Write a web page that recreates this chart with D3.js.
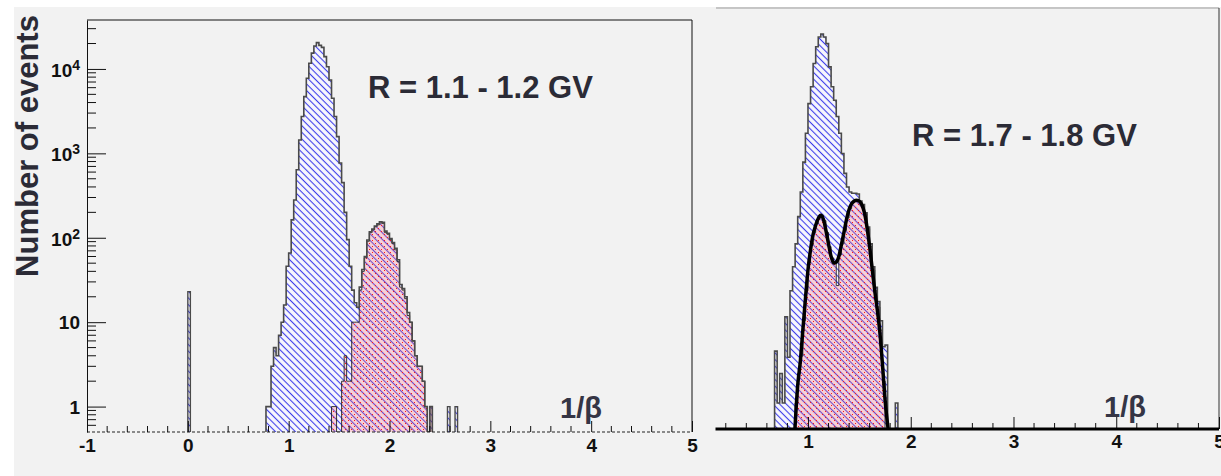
<!DOCTYPE html>
<html>
<head>
<meta charset="utf-8">
<script src="https://cdn.jsdelivr.net/npm/d3@7"></script>
<style>
  body { margin: 0; background: #fff; }
  svg { display: block; }
  text { font-family: "Liberation Sans", Arial, sans-serif; font-weight: bold; }
</style>
</head>
<body>
<div id="chart"></div>
<script>
// bin width of all histograms (1/beta units)
const binWidth = 0.025;

// left panel, R = 1.1 - 1.2 GV
const leftTotalStart = 0.775;
const leftTotal = [1, 1, 3, 5, 4, 7, 10, 16, 46, 66, 163, 280, 640, 1440, 2730, 4700, 7750, 11700,
  15400, 18700, 20500, 19000, 18000, 14000, 10600, 7400, 4500, 2730, 1580, 770, 450, 200, 95, 46,
  24, 17, 15, 26, 42, 60, 94, 118, 127, 138, 146, 155, 152, 120, 113, 98, 88, 75, 55, 28, 25, 20,
  13, 10, 6, 4, 3, 3, 2, 1, 0, 1];
const leftRedStart = 1.425;
const leftRed = [1, 1, 0, 0, 2, 4, 2, 2, 10, 10, 10, 24, 40, 58, 91, 115, 124, 135, 142, 150, 148,
  115, 110, 95, 85, 72, 52, 26, 24, 19, 12, 10, 6, 4, 3, 3, 2, 1, 0, 1];
const leftSpikeStarts = [0, 2.575, 2.65];
const leftSpikeCounts = [23, 1, 1];

// right panel, R = 1.7 - 1.8 GV
const rightTotalStart = 0.675;
const rightTotal = [4, 1, 2.2, 1, 10, 3.4, 20, 38, 70, 145, 280, 620, 1340, 2960, 4650, 8650, 13500,
  17500, 19000, 17500, 14700, 7900, 4650, 3240, 2100, 1340, 780, 460, 320, 280, 270, 270, 265, 220,
  200, 160, 110, 70, 38, 22, 15, 9, 4.5, 4.7, 0, 0, 0, 1];
const rightRedStart = 0.875;
const rightRed = [1, 2.2, 3.5, 9, 20, 42, 68, 95, 120, 140, 150, 130, 95, 65, 48, 44, 23, 52, 70, 100,
  140, 180, 210, 222, 225, 215, 195, 155, 105, 65, 35, 20, 13, 7, 1.8];

// fitted curve (right panel)
const fitX = [0.873, 0.9, 0.925, 0.95, 0.975, 1.0, 1.025, 1.05, 1.075, 1.1, 1.125, 1.15, 1.175, 1.2,
  1.225, 1.25, 1.275, 1.3, 1.325, 1.35, 1.375, 1.4, 1.425, 1.45, 1.475, 1.5, 1.525, 1.55, 1.575,
  1.6, 1.625, 1.65, 1.675, 1.7, 1.725, 1.75, 1.78];
const fitY = [0.5, 1.6, 3, 7, 16, 35, 60, 90, 115, 138, 150, 135, 100, 70, 50, 42, 43, 50, 68, 95,
  135, 175, 205, 220, 225, 218, 198, 160, 108, 65, 36, 20, 12, 6.5, 2.8, 1.1, 0.5];

// ticks
const xTicksLeft = [-1, 0, 1, 2, 3, 4, 5];
const xTicksRight = [1, 2, 3, 4, 5];
const yTickValues = [1, 10, 100, 1000, 10000];
const yTickBase = ["1", "10", "10", "10", "10"];
const yTickExp = ["", "", "2", "3", "4"];

const W = 1221, H = 476;
const yMin = 0.5;
const ink = "#2b2b36";

const svg = d3.select("#chart").append("svg").attr("width", W).attr("height", H);
svg.append("rect").attr("x", 14).attr("y", 7).attr("width", W - 14).attr("height", H - 7).attr("fill", "#f2f2f2");

const defs = svg.append("defs");
const hatch = defs.append("pattern").attr("id", "blueHatch")
  .attr("patternUnits", "userSpaceOnUse").attr("width", 10).attr("height", 4.7)
  .attr("patternTransform", "rotate(45)");
hatch.append("rect").attr("width", 10).attr("height", 4.7).attr("fill", "#f8f8fd");
hatch.append("line").attr("x1", 0).attr("x2", 10).attr("y1", 2.35).attr("y2", 2.35)
  .attr("stroke", "#3c3cea").attr("stroke-width", 1.1);

// sparse red dots laid over a light pink wash
const dots = defs.append("pattern").attr("id", "redDots")
  .attr("patternUnits", "userSpaceOnUse").attr("width", 6).attr("height", 6);
dots.append("rect").attr("x", 0).attr("y", 0).attr("width", 1).attr("height", 1).attr("fill", "#ff1a1a");
dots.append("rect").attr("x", 3).attr("y", 3).attr("width", 1).attr("height", 1).attr("fill", "#ff1a1a");

// scales
const xL = d3.scaleLinear().domain([-1, 5]).range([87, 692]);
const yL = d3.scaleLog().domain([yMin, 38000]).range([432, 20]).clamp(true);
const xR = d3.scaleLinear().domain([0.1, 5]).range([715.5, 1219]);
const yR = d3.scaleLog().domain([yMin, 38000]).range([429, 8]).clamp(true);

function clipFor(id, x, y) {
  defs.append("clipPath").attr("id", id).append("rect")
    .attr("x", x.range()[0]).attr("y", y.range()[1])
    .attr("width", x.range()[1] - x.range()[0]).attr("height", y.range()[0] - y.range()[1]);
}
clipFor("clipL", xL, yL);
clipFor("clipR", xR, yR);

function stepPoints(start, counts) {
  const pts = counts.map((c, i) => [start + i * binWidth, c]);
  pts.push([start + counts.length * binWidth, counts[counts.length - 1]]);
  return pts;
}

function histFill(g, x, y, start, counts, fill) {
  const area = d3.area().curve(d3.curveStepAfter)
    .x(d => x(d[0])).y0(y.range()[0]).y1(d => y(Math.max(d[1], yMin)));
  return g.append("path").attr("d", area(stepPoints(start, counts))).attr("fill", fill);
}

function redFill(g, x, y, start, counts) {
  histFill(g, x, y, start, counts, "#ff6a6a").attr("fill-opacity", 0.27);
  histFill(g, x, y, start, counts, "url(#redDots)");
}

function histLine(g, x, y, start, counts, stroke, sw) {
  const pts = stepPoints(start, counts);
  const end = start + counts.length * binWidth;
  const line = d3.line().curve(d3.curveStepAfter)
    .x(d => x(d[0])).y(d => y(Math.max(d[1], yMin)));
  g.append("path").attr("d", line([[start, 0], ...pts, [end, 0]]))
    .attr("fill", "none").attr("stroke", stroke).attr("stroke-width", sw);
}

// ---------- left panel ----------
const gL = svg.append("g").attr("clip-path", "url(#clipL)");
histFill(gL, xL, yL, leftTotalStart, leftTotal, "url(#blueHatch)");
leftSpikeStarts.forEach((s, i) => histFill(gL, xL, yL, s, [leftSpikeCounts[i]], "url(#blueHatch)"));
redFill(gL, xL, yL, leftRedStart, leftRed);
histLine(gL, xL, yL, leftRedStart, leftRed, "#222", 0.9);
histLine(gL, xL, yL, leftTotalStart, leftTotal, "#4a4a4a", 1.6);
leftSpikeStarts.forEach((s, i) => histLine(gL, xL, yL, s, [leftSpikeCounts[i]], "#4a4a4a", 1.4));

// frame
svg.append("line").attr("x1", 87).attr("x2", 692).attr("y1", 20).attr("y2", 20).attr("stroke", "#111");
svg.append("line").attr("x1", 692).attr("x2", 692).attr("y1", 20).attr("y2", 432).attr("stroke", "#111");
svg.append("line").attr("x1", 87).attr("x2", 692).attr("y1", 432).attr("y2", 432)
  .attr("stroke", "#222").attr("stroke-dasharray", "3,2");

// x axis (left)
const axL = svg.append("g").attr("transform", "translate(0,432)")
  .call(d3.axisBottom(xL).tickValues(xTicksLeft).tickSizeInner(-11).tickSizeOuter(0)
    .tickPadding(7).tickFormat(d => String(d)));
axL.select(".domain").remove();
axL.selectAll("line").attr("stroke", "#111");
axL.selectAll("text").attr("font-size", 19).attr("fill", "#111");
svg.append("g").selectAll("line")
  .data(d3.range(-1, 5.001, 0.2).filter(v => Math.abs(v - Math.round(v)) > 0.01))
  .join("line")
  .attr("x1", d => xL(d)).attr("x2", d => xL(d)).attr("y1", 432).attr("y2", 426)
  .attr("stroke", "#111");

// y axis (left)
const ayL = svg.append("g").attr("transform", "translate(87,0)")
  .call(d3.axisLeft(yL).tickValues(yTickValues).tickSizeInner(-19).tickSizeOuter(0).tickFormat(""));
ayL.select(".domain").attr("stroke", "#111");
ayL.selectAll("line").attr("stroke", "#111");
const minorY = [];
for (let e = -1; e <= 4; e++) for (let m = 2; m <= 9; m++) {
  const v = m * Math.pow(10, e);
  if (v > yMin && v < 38000) minorY.push(v);
}
svg.append("g").selectAll("line").data(minorY).join("line")
  .attr("x1", 87).attr("x2", 96).attr("y1", d => yL(d)).attr("y2", d => yL(d)).attr("stroke", "#111");
const yLab = svg.append("g").selectAll("text").data(yTickValues).join("text")
  .attr("x", 80).attr("y", (d, i) => yL(d) + (yTickExp[i] ? 8 : 7))
  .attr("text-anchor", "end").attr("font-size", 19).attr("fill", "#111")
  .text((d, i) => yTickBase[i]);
yLab.filter((d, i) => yTickExp[i] !== "").append("tspan")
  .attr("dy", -7).attr("font-size", 14).text(d => yTickExp[yTickValues.indexOf(d)]);

svg.append("text").attr("transform", "translate(38,146) rotate(-90)")
  .attr("text-anchor", "middle").attr("font-size", 31).attr("fill", ink).text("Number of events");
svg.append("text").attr("x", 368).attr("y", 98).attr("font-size", 31).attr("fill", ink).text("R = 1.1 - 1.2 GV");
svg.append("text").attr("x", 560).attr("y", 418).attr("font-size", 29).attr("fill", "#353545").text("1/β");

// ---------- right panel ----------
const gR = svg.append("g").attr("clip-path", "url(#clipR)");
histFill(gR, xR, yR, rightTotalStart, rightTotal, "url(#blueHatch)");
redFill(gR, xR, yR, rightRedStart, rightRed);
histLine(gR, xR, yR, rightRedStart, rightRed, "#222", 0.9);
histLine(gR, xR, yR, rightTotalStart, rightTotal, "#4a4a4a", 1.6);

const fitLine = d3.line().curve(d3.curveMonotoneX)
  .x((d, i) => xR(fitX[i])).y(d => yR(Math.max(d, yMin)));
gR.append("path").attr("d", fitLine(fitY)).attr("fill", "none")
  .attr("stroke", "#000").attr("stroke-width", 3.5).attr("stroke-linejoin", "round");

svg.append("line").attr("x1", 716).attr("x2", 1219).attr("y1", 8).attr("y2", 8).attr("stroke", "#999");
svg.append("line").attr("x1", 1219).attr("x2", 1219).attr("y1", 8).attr("y2", 429).attr("stroke", "#333");

const axR = svg.append("g").attr("transform", "translate(0,429)")
  .call(d3.axisBottom(xR).tickValues(xTicksRight).tickSizeInner(-12).tickSizeOuter(0)
    .tickPadding(6).tickFormat(d => String(d)));
axR.select(".domain").remove();
axR.selectAll("line").attr("stroke", "#111");
axR.selectAll("text").attr("font-size", 19).attr("fill", "#111");
svg.append("g").selectAll("line")
  .data(d3.range(0.2, 5.001, 0.2).filter(v => Math.abs(v - Math.round(v)) > 0.01))
  .join("line")
  .attr("x1", d => xR(d)).attr("x2", d => xR(d)).attr("y1", 429).attr("y2", 423)
  .attr("stroke", "#111");
svg.append("line").attr("x1", 715.5).attr("x2", 1219).attr("y1", 429).attr("y2", 429)
  .attr("stroke", "#000").attr("stroke-width", 3);

svg.append("text").attr("x", 912).attr("y", 146).attr("font-size", 31).attr("fill", ink).text("R = 1.7 - 1.8 GV");
svg.append("text").attr("x", 1104).attr("y", 417).attr("font-size", 29).attr("fill", "#353545").text("1/β");
</script>
</body>
</html>
